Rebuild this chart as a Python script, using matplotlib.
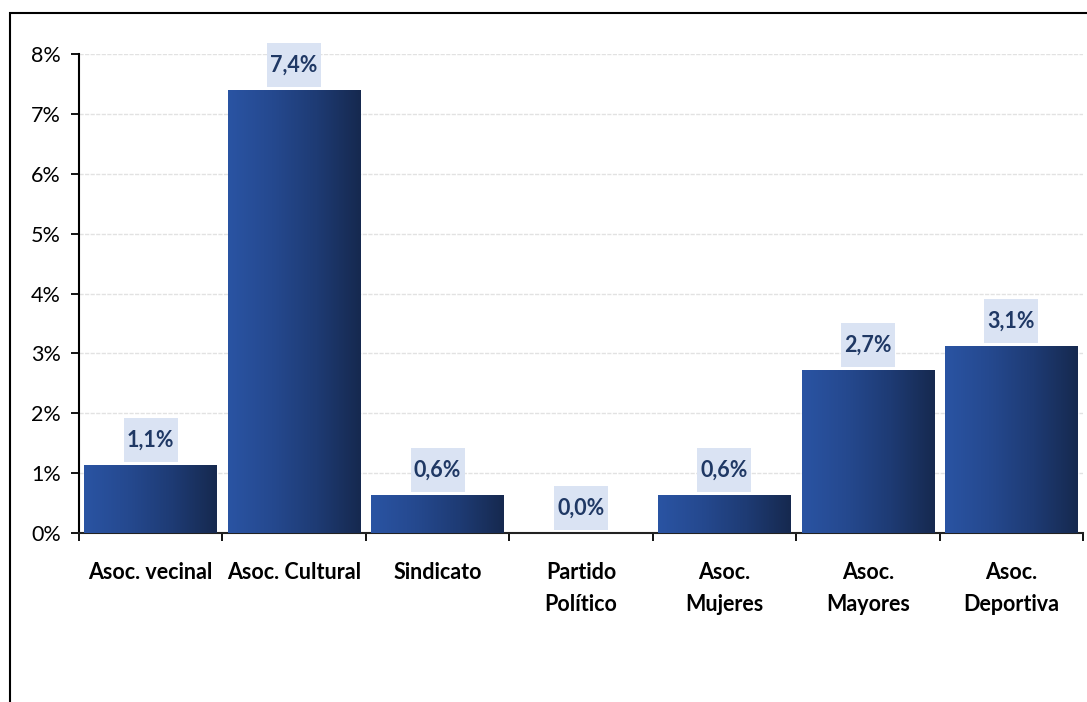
import matplotlib
matplotlib.use("Agg")
import matplotlib.pyplot as plt
import numpy as np
from matplotlib.colors import LinearSegmentedColormap
from matplotlib.patches import Rectangle

categories = ["Asoc. vecinal", "Asoc. Cultural", "Sindicato", "Partido\nPolítico",
              "Asoc.\nMujeres", "Asoc.\nMayores", "Asoc.\nDeportiva"]
values = [1.13, 7.40, 0.63, 0.0, 0.63, 2.72, 3.12]
value_labels = ["1,1%", "7,4%", "0,6%", "0,0%", "0,6%", "2,7%", "3,1%"]
yticks = [0, 1, 2, 3, 4, 5, 6, 7, 8]
ytick_labels = ["0%", "1%", "2%", "3%", "4%", "5%", "6%", "7%", "8%"]

plt.rcParams['font.family'] = ['Lato', 'DejaVu Sans']

W, H = 1087, 702
fig = plt.figure(figsize=(W / 100, H / 100), dpi=100)
ax = fig.add_axes([79 / W, 1 - 533 / H, (1083 - 79) / W, (533 - 54) / H])

x = np.arange(len(categories))
bars = ax.bar(x, values, width=0.925, color='none', edgecolor='none', zorder=3)

cmap = LinearSegmentedColormap.from_list("g", ["#2A54A3", "#25498F", "#1E3B74", "#16294F"])
grad = np.linspace(0, 1, 256).reshape(1, -1)
for b in bars:
    bx, by = b.get_x(), b.get_y()
    bw, bh = b.get_width(), b.get_height()
    if bh <= 0:
        continue
    im = ax.imshow(grad, cmap=cmap, aspect='auto', extent=[bx, bx + bw, by, by + bh],
                   zorder=3, interpolation='bilinear')
    im.set_clip_path(b)

ax.set_xlim(-0.5, len(categories) - 0.5)
ax.set_ylim(0, 8)

# label boxes: sizes in pixels converted to data units
px_x = len(categories) / (1083 - 79)
px_y = 8 / (533 - 54)
box_w, box_h, gap = 54 * px_x, 44 * px_y, 3 * px_y
for xi, v, lab in zip(x, values, value_labels):
    ax.add_patch(Rectangle((xi - box_w / 2, v + gap), box_w, box_h,
                           facecolor="#DAE3F3", edgecolor='none', zorder=4, clip_on=False))
    ax.text(xi, v + gap + box_h / 2, lab, ha='center', va='center', fontsize=15.5,
            fontweight='bold', color="#1F3864", zorder=5, clip_on=False)

ax.set_yticks(yticks)
ax.set_yticklabels(ytick_labels, fontsize=15.5)
ax.yaxis.grid(True, color="#E2E2E2", linewidth=1, linestyle=(0, (3, 1)), zorder=0)
ax.set_axisbelow(True)

ax.set_xticks(np.arange(len(categories) + 1) - 0.5)
ax.set_xticklabels([])
ax.set_xticks(x, minor=True)
ax.set_xticklabels(categories, minor=True, fontsize=15.5, fontweight='bold', linespacing=1.65)
ax.tick_params(axis='x', which='minor', length=0, pad=21)
ax.tick_params(axis='x', which='major', direction='out', length=6, width=1.3, color='black')
ax.tick_params(axis='y', direction='out', length=6, width=1.3, pad=7)

for s in ['top', 'right']:
    ax.spines[s].set_visible(False)
ax.spines['left'].set_linewidth(1.5)
ax.spines['bottom'].set_linewidth(1.5)
ax.spines['bottom'].set_color('#222222')

# figure frame (extends beyond image right and bottom edges)
fig.patches.append(Rectangle((10 / W, -0.1), 1.2, 1 - 13 / H + 0.1, transform=fig.transFigure,
                             fill=False, edgecolor='black', linewidth=1.5, figure=fig))

fig.savefig("out.png", dpi=100)
